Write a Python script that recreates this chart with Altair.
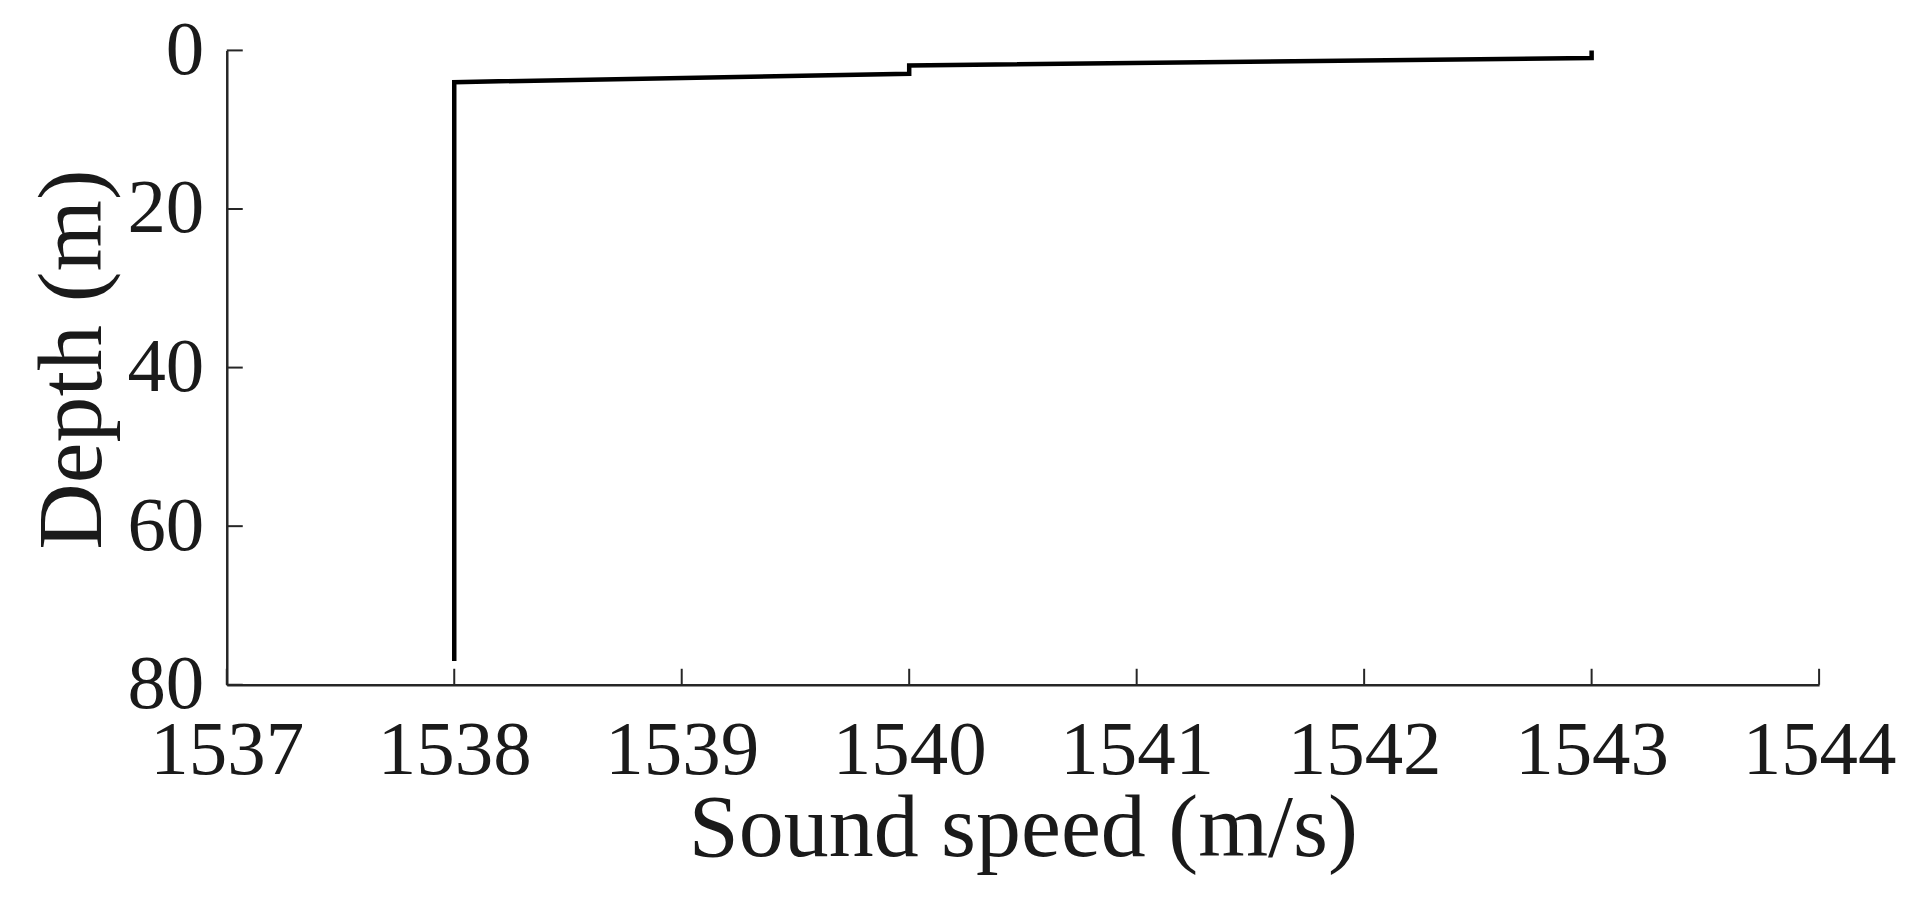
import altair as alt
import pandas as pd

# Sound-speed profile
speed = [1543.0, 1543.0, 1540.0, 1540.0, 1538.0, 1538.0]
depth = [0.0, 0.95, 1.9, 2.95, 4.0, 77.0]

x_ticks = [1537, 1538, 1539, 1540, 1541, 1542, 1543, 1544]
y_ticks = [0, 20, 40, 60, 80]

W, H = 1594, 635
TICK_LEN = 16
AX_COLOR = "#262626"
FONT = "Liberation Serif"

df = pd.DataFrame({"speed": speed, "depth": depth, "i": list(range(len(speed)))})
dfx = pd.DataFrame({"speed": x_ticks})
dfy = pd.DataFrame({"depth": y_ticks})

x_scale = alt.Scale(domain=[1537, 1544], nice=False, zero=False)
y_scale = alt.Scale(domain=[0, 80], reverse=True, nice=False, zero=False)

x_axis = alt.Axis(
    values=x_ticks,
    format="d",
    title="Sound speed (m/s)",
    labelPadding=28,
    titleY=171,
    titleBaseline="alphabetic",
    titleFontSize=90,
)
y_axis = alt.Axis(
    values=y_ticks,
    format="d",
    title="Depth (m)",
    labelPadding=23,
    labelBaseline="middle",
    titleX=-126,
    titleY=309,
    titleAngle=270,
    titleAlign="center",
    titleBaseline="alphabetic",
    titleFontSize=92,
)

line = alt.Chart(df).mark_line(color="black", strokeWidth=4.5, strokeJoin="miter").encode(
    x=alt.X("speed:Q", scale=x_scale, axis=x_axis),
    y=alt.Y("depth:Q", scale=y_scale, axis=y_axis),
    order="i:Q",
)

x_ticks_layer = alt.Chart(dfx).mark_rule(color=AX_COLOR, strokeWidth=2).encode(
    x=alt.X("speed:Q", scale=x_scale, axis=x_axis),
    y=alt.value(H),
    y2=alt.value(H - TICK_LEN),
)

y_ticks_layer = alt.Chart(dfy).mark_rule(color=AX_COLOR, strokeWidth=2).encode(
    y=alt.Y("depth:Q", scale=y_scale, axis=y_axis),
    x=alt.value(0),
    x2=alt.value(TICK_LEN),
)

chart = (
    alt.layer(line, x_ticks_layer, y_ticks_layer)
    .properties(
        width=W,
        height=H,
        autosize=alt.AutoSizeParams(type="none"),
        padding={"left": 219, "top": 42, "right": 90, "bottom": 200},
        background="white",
    )
    .configure_view(stroke=None)
    .configure_axis(
        grid=False,
        ticks=False,
        tickSize=0,
        domainColor=AX_COLOR,
        domainWidth=2.5,
        labelFont=FONT,
        labelFontSize=77,
        labelColor="#1a1a1a",
        labelFlush=False,
        labelOverlap=False,
        titleFont=FONT,
        titleFontWeight="normal",
        titleColor="#1a1a1a",
    )
)

chart.save("out.html", embed_options={"renderer": "svg", "actions": False})
